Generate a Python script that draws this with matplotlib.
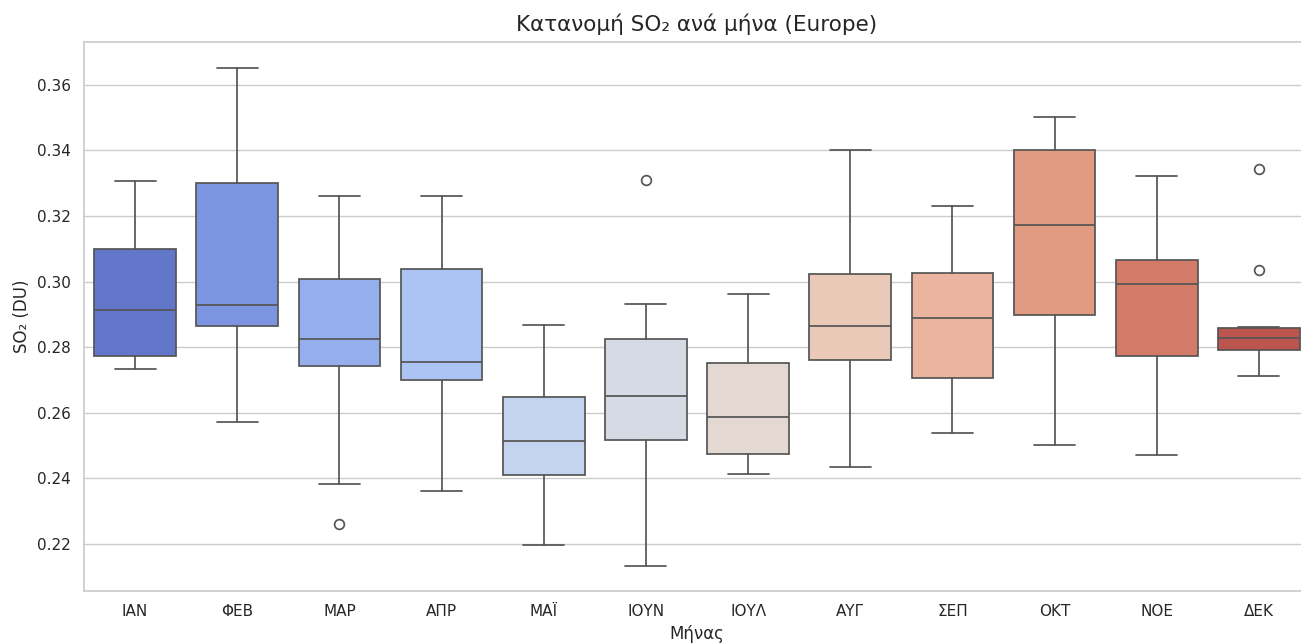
#!/usr/bin/env python3

import matplotlib
matplotlib.use("Agg")
from matplotlib import pyplot as plt
import seaborn as sns

months = ['ΙΑΝ', 'ΦΕΒ', 'ΜΑΡ', 'ΑΠΡ', 'ΜΑΪ', 'ΙΟΥΝ', 'ΙΟΥΛ', 'ΑΥΓ', 'ΣΕΠ', 'ΟΚΤ', 'ΝΟΕ', 'ΔΕΚ']

# box statistics (DU)
whislo = [0.2733, 0.2572, 0.2383, 0.2360, 0.2196, 0.2133, 0.2414, 0.2434, 0.2538, 0.2502, 0.2471, 0.2712]
q1 = [0.2773, 0.2863, 0.2743, 0.2699, 0.2410, 0.2518, 0.2475, 0.2760, 0.2705, 0.2899, 0.2773, 0.2791]
med = [0.2912, 0.2928, 0.2824, 0.2756, 0.2515, 0.2651, 0.2586, 0.2863, 0.2890, 0.3173, 0.2993, 0.2827]
q3 = [0.3100, 0.3301, 0.3008, 0.3037, 0.2647, 0.2825, 0.2752, 0.3023, 0.3025, 0.3403, 0.3066, 0.2859]
whishi = [0.3308, 0.3653, 0.3262, 0.3262, 0.2867, 0.2933, 0.2963, 0.3403, 0.3230, 0.3501, 0.3322, 0.2861]
fliers = [[], [], [0.2259], [], [], [0.3311], [], [], [], [], [], [0.3343, 0.3036]]


def main():
    sns.set_theme(style="whitegrid")
    plt.rcParams['font.family'] = ['DejaVu Sans']

    stats = []
    for i in range(len(months)):
        stats.append(dict(med=med[i], q1=q1[i], q3=q3[i], whislo=whislo[i],
                          whishi=whishi[i], fliers=fliers[i], label=months[i]))

    colors = [sns.desaturate(c, 0.75) for c in sns.color_palette("coolwarm", len(months))]
    line = '#555555'

    fig = plt.figure(figsize=(13.01, 6.43), dpi=100)
    ax = fig.add_axes([84 / 1301, 52 / 643, 1226 / 1301, 549 / 643])

    bp = ax.bxp(stats, positions=range(len(months)), widths=0.8, patch_artist=True,
                boxprops=dict(edgecolor=line, linewidth=1.25),
                medianprops=dict(color=line, linewidth=1.25),
                whiskerprops=dict(color=line, linewidth=1.25),
                capprops=dict(color=line, linewidth=1.25),
                capwidths=0.4,
                flierprops=dict(marker='o', markerfacecolor='none', markeredgecolor=line,
                                markersize=7, markeredgewidth=1.25))
    for patch, c in zip(bp['boxes'], colors):
        patch.set_facecolor(c)

    ax.set_xlim(-0.5, len(months) - 0.5)
    ax.set_ylim(0.2056, 0.3731)
    ax.set_yticks([0.22, 0.24, 0.26, 0.28, 0.30, 0.32, 0.34, 0.36])
    ax.set_yticklabels(['%.2f' % v for v in ax.get_yticks()])
    ax.xaxis.grid(False)
    ax.tick_params(labelsize=11)
    ax.set_xlabel('Μήνας', fontsize=12)
    ax.set_ylabel('SO₂ (DU)', fontsize=12)
    ax.set_title('Κατανομή SO₂ ανά μήνα (Europe)', fontsize=15.5, pad=8)

    fig.savefig("out.png", dpi=100)
    return


if __name__ == "__main__":
    main()
